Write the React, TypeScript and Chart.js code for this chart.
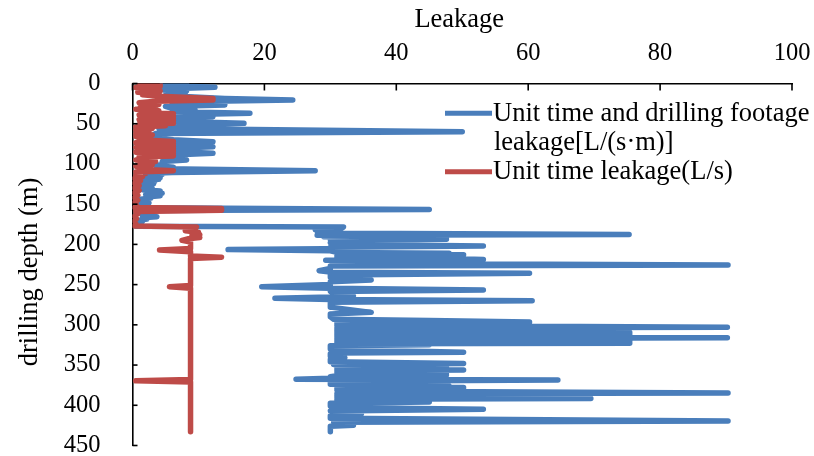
import React, { useEffect, useRef } from "react";
import { Chart, registerables } from "chart.js";

Chart.register(...registerables);

// ---- texts ----
const xAxisTitle = "Leakage";
const yAxisTitle = "drilling depth (m)";
const legendLines = ["Unit time and drilling footage", "leakage[L/(s·m)]", "Unit time leakage(L/s)"];

// ---- tick values ----
const leakageTicks = [0, 20, 40, 60, 80, 100];
const depthTicks = [0, 50, 100, 150, 200, 250, 300, 350, 400, 450];

// ---- series: [depth (m), leakage] ----
const footageLeakage: [number, number][] = [
  [0.5, 8.2], [2, 4.5], [3.5, 8.2], [4.8, 12.5], [6, 8], [7.5, 4.5], [9, 8.2], [10.5, 5], [12, 8], [14, 6.2],
  [16, 7], [18.5, 14], [20.5, 24.3], [22, 12], [24, 6], [26.7, 14], [28.5, 5], [31, 6], [33, 9.5], [35, 6],
  [37, 17.8], [39, 7], [41.2, 12.2], [43, 6], [45, 9], [47, 5.5], [49.5, 16.9], [51.5, 6.5], [53.7, 8.5], [56, 4],
  [59.9, 50], [62, 3.5], [65, 3], [68, 4], [70, 6.2], [72.4, 12.2], [74.5, 6], [76.5, 8], [78.6, 12.2], [80.5, 6],
  [82.5, 9], [84.5, 6], [86.8, 12.2], [89, 6], [91, 8], [93, 5], [95, 8.2], [97, 4.5], [100, 5], [102, 3.5],
  [104, 6.2], [106, 5], [108.4, 27.7], [110.5, 6], [112, 2], [113, 4.5], [114, 2], [115, 4.2], [116, 2], [117, 4.2],
  [118, 2], [119, 4], [120, 1.5], [121.5, 3.4], [123, 1.5], [124.5, 3.2], [126, 1.5], [127.5, 2.8], [129, 1.2], [130.5, 3],
  [132, 1.5], [133.5, 4.2], [135, 2], [136.5, 4.5], [138, 2], [139.5, 4.2], [141, 2], [142.5, 2.8], [144, 1.2], [145.5, 2.2],
  [147, 1], [148.5, 2.5], [150, 1], [151.5, 1.8], [153, 1], [154.5, 1.8], [156.5, 45], [158, 1.5], [159.5, 2.5], [161, 1.2],
  [162.5, 2.5], [164, 1.5], [165.6, 3.7], [167, 1.5], [168.5, 2.2], [170, 1], [171.5, 1.5], [173, 0.8], [175, 1], [177.5, 0.5],
  [178.5, 32], [180, 31.5], [181.5, 27.7], [183, 31], [184.5, 28], [186, 32], [187.6, 75.3], [188.5, 28],
  [189.5, 45], [190.5, 29], [191.5, 47.6], [192.5, 30], [193.5, 47.6], [194.5, 30], [196, 31], [198, 30], [200, 33],
  [202, 53.2], [203.5, 30], [205, 33.7], [206.5, 14.5], [208, 30], [210, 31], [211, 48], [212, 31], [213, 50.2],
  [214, 31], [215, 45], [216, 31], [217, 45], [218.7, 53.2], [219.7, 29.3], [220.7, 45], [221.7, 31], [222.7, 45],
  [223.7, 31], [224.5, 53.2], [225.7, 90.3], [227, 30], [230, 30], [232.8, 28.3], [234.5, 30], [236, 60.2], [238, 30],
  [241, 30], [244.4, 36.2], [246.5, 30], [250, 30], [252.7, 19.6], [254.5, 30], [256.8, 53.2], [258.5, 30], [261, 30.5],
  [264, 33.5], [265.5, 30], [267, 21.6], [268.5, 30], [270, 60.6], [272, 30], [278, 30], [284.5, 36.2], [286.5, 30],
  [290, 30], [293, 30.5], [294.5, 45], [296.6, 60.2], [297.5, 31], [298.3, 53], [299.1, 31], [299.9, 53], [300.7, 31],
  [301.5, 53], [302.9, 90.2], [304, 31], [304.8, 53], [305.6, 31], [306.4, 53], [307.2, 31], [308, 53], [308.8, 31],
  [309.6, 75.4], [310.4, 31], [311.2, 75.4], [312, 31], [312.8, 75.4], [313.6, 31], [314.4, 75.4], [315.2, 31],
  [316.2, 90.2], [317.2, 31], [318, 75.4], [318.8, 31], [319.6, 75.4], [320.4, 31], [321.2, 75.4], [322, 31],
  [322.8, 75.4], [323.6, 31], [324.8, 45], [326, 30], [330, 30], [332, 30.5], [333, 45], [334, 50.2], [335, 31],
  [336, 30], [339, 30], [341, 32.2], [343, 30], [346, 30], [348, 50.2], [349.2, 30.5], [350.3, 45], [351.3, 31],
  [352.3, 47.6], [353.3, 31], [354.3, 47.6], [355.2, 31], [356, 50.2], [357, 31], [358, 47.6], [359, 31], [360, 47.6],
  [361, 31], [362.3, 47.6], [363.3, 31], [364.5, 30], [366.5, 30], [367.5, 24.8], [368.5, 64.5], [370, 30], [374, 30],
  [376, 48], [377, 31], [378, 50.2], [379, 31], [380, 50.2], [381, 31], [383, 45], [384.6, 90.3], [385.6, 31], [386.6, 45],
  [387.6, 31], [388.6, 45], [389.6, 31], [390.6, 45], [391.5, 69.5], [392.5, 31], [393.5, 45], [394.5, 31], [395.8, 45],
  [397.5, 30], [401, 30], [403, 33], [405, 53.2], [407, 30], [408.5, 33], [411, 34.7], [413, 30], [416, 30], [419.4, 90.3],
  [421, 30.5], [423, 33.5], [424.7, 33.5], [426, 30], [433, 30],
];

const unitTimeLeakage: [number, number][] = [
  [0.5, 4.2], [2, 1], [3.5, 4.2], [5, 0.5], [6.5, 4], [8, 1], [9.5, 4.2], [11, 0.8], [12.5, 4], [14, 1.5],
  [16, 4], [18.5, 12.2], [20.5, 12.2], [22, 3.5], [24, 1], [26, 4], [28, 1.2], [30, 3.5], [32, 0.5], [34, 4],
  [36, 1.5], [37.5, 6.2], [39, 1], [40.5, 6.2], [42, 1.5], [43.5, 6.2], [45, 1], [46.5, 6.2], [48, 2], [49.5, 6.2],
  [51, 1], [52.5, 5], [54, 0.5], [56, 3], [58, 0.5], [60, 2.5], [62, 0.5], [64, 3], [66, 0.5], [68, 2.5],
  [70, 1], [72, 6.2], [73.5, 0.5], [75, 6.2], [76.5, 1], [78, 6.2], [79.5, 0.5], [81, 6.2], [82.5, 1], [84, 6.2],
  [85.5, 0.5], [87, 6.2], [88.5, 1.5], [90, 6.2], [91.5, 1], [93, 3], [95, 0.5], [97, 3.5], [99, 1], [101, 3],
  [103, 0.5], [105, 2.5], [106.5, 1], [108.4, 6.2], [110, 0.5], [112, 2], [114, 0.5], [116, 1.5], [118, 0.3], [121, 1.2],
  [124, 0.3], [127, 1], [130, 0.3], [133, 1], [136, 0.3], [139, 0.8], [142, 0.3], [145, 0.8], [148, 0.3], [151, 0.6],
  [154, 0.3], [155.5, 13.5], [157.5, 13.5], [159, 0.5], [162, 0.8], [165, 0.3], [168, 0.6], [171, 0.3], [174, 0.5], [177, 0.3],
  [178.3, 9.7], [180, 8.5], [181.5, 9.5], [183, 8], [185, 10], [186.5, 9], [188, 10.2], [190, 9], [191.5, 10.2], [193, 8.5],
  [195, 7.5], [197, 8.8], [200, 8.8], [205, 8.8], [207, 4.1], [209, 8.8], [214.5, 8.8], [216, 13.5], [217.5, 8.8], [251, 8.8],
  [252.7, 5.6], [254.5, 8.8], [368, 8.8], [369.6, 0.5], [371.2, 8.8], [433, 8.8],
];

const BLUE = "#4A7EBB";
const RED = "#BE4B48";
const FONT = '"Liberation Serif", "Times New Roman", serif';
const LINE_W = 5.5;

const decorPlugin = {
  id: "decor",
  afterDraw(chart: any) {
    const ctx = chart.ctx as CanvasRenderingContext2D;
    const xs = chart.scales.x;
    const ys = chart.scales.y;
    const area = chart.chartArea;
    ctx.save();
    ctx.strokeStyle = "#000";
    ctx.lineWidth = 1.6;
    for (const v of leakageTicks) {
      const px = xs.getPixelForValue(v);
      ctx.beginPath();
      ctx.moveTo(px, area.top);
      ctx.lineTo(px, area.top + 7);
      ctx.stroke();
    }
    for (const v of depthTicks) {
      const py = ys.getPixelForValue(v);
      ctx.beginPath();
      ctx.moveTo(area.left, py);
      ctx.lineTo(area.left + 5, py);
      ctx.stroke();
    }
    ctx.fillStyle = "#000";
    ctx.font = `26.5px ${FONT}`;
    ctx.textAlign = "center";
    ctx.textBaseline = "alphabetic";
    ctx.fillText(xAxisTitle, (area.left + area.right) / 2 - 3, 27);
    ctx.save();
    ctx.translate(36.5, 272);
    ctx.rotate(-Math.PI / 2);
    ctx.fillText(yAxisTitle, 0, 0);
    ctx.restore();

    // legend
    ctx.lineWidth = 5;
    ctx.lineCap = "butt";
    ctx.strokeStyle = BLUE;
    ctx.beginPath();
    ctx.moveTo(445, 113.3);
    ctx.lineTo(492, 113.3);
    ctx.stroke();
    ctx.strokeStyle = RED;
    ctx.beginPath();
    ctx.moveTo(445, 171.7);
    ctx.lineTo(492, 171.7);
    ctx.stroke();
    ctx.textAlign = "left";
    ctx.fillText(legendLines[0], 493, 120.5);
    ctx.fillText(legendLines[1], 494, 149.5);
    ctx.fillText(legendLines[2], 493, 178.5);
    ctx.restore();
  },
};

export default function App() {
  const ref = useRef<HTMLCanvasElement | null>(null);
  useEffect(() => {
    if (!ref.current) return;
    const chart = new Chart(ref.current, {
      type: "scatter",
      data: {
        datasets: [
          {
            label: legendLines[2],
            data: unitTimeLeakage.map(([d, v]) => ({ x: v, y: d })),
            borderColor: RED,
            backgroundColor: RED,
            showLine: true,
            borderWidth: LINE_W,
            pointRadius: 0,
            borderJoinStyle: "round",
            borderCapStyle: "round",
            tension: 0,
            order: 0,
          },
          {
            label: legendLines[0] + " " + legendLines[1],
            data: footageLeakage.map(([d, v]) => ({ x: v, y: d })),
            borderColor: BLUE,
            backgroundColor: BLUE,
            showLine: true,
            borderWidth: LINE_W,
            pointRadius: 0,
            borderJoinStyle: "round",
            borderCapStyle: "round",
            tension: 0,
            order: 1,
          },
        ],
      },
      options: {
        animation: false,
        responsive: false,
        maintainAspectRatio: false,
        devicePixelRatio: 1,
        layout: { autoPadding: false, padding: { left: 0, top: 0, right: 22, bottom: 10.5 } },
        plugins: { legend: { display: false }, tooltip: { enabled: false } },
        scales: {
          x: {
            type: "linear",
            position: "top",
            min: 0,
            max: 100,
            grid: { display: false, drawTicks: false },
            border: { display: true, color: "#000", width: 1.6 },
            ticks: {
              stepSize: 20,
              padding: 15,
              color: "#000",
              font: { family: FONT, size: 24.5 },
            },
            afterFit: (s: any) => {
              s.height = 83.5;
              s.paddingLeft = 0;
              s.paddingRight = 0;
            },
          },
          y: {
            type: "linear",
            reverse: true,
            min: 0,
            max: 450,
            grid: { display: false, drawTicks: false },
            border: { display: true, color: "#000", width: 1.6 },
            ticks: {
              stepSize: 50,
              padding: 32,
              color: "#000",
              font: { family: FONT, size: 24.5 },
            },
            afterFit: (s: any) => {
              s.width = 132.5;
              s.paddingTop = 0;
              s.paddingBottom = 0;
            },
          },
        },
      },
      plugins: [decorPlugin],
    });
    return () => chart.destroy();
  }, []);
  return (
    <div style={{ position: "fixed", left: 0, top: 0, width: 814, height: 456, background: "#fff" }}>
      <canvas ref={ref} width={814} height={456} style={{ width: 814, height: 456, display: "block" }} />
    </div>
  );
}
